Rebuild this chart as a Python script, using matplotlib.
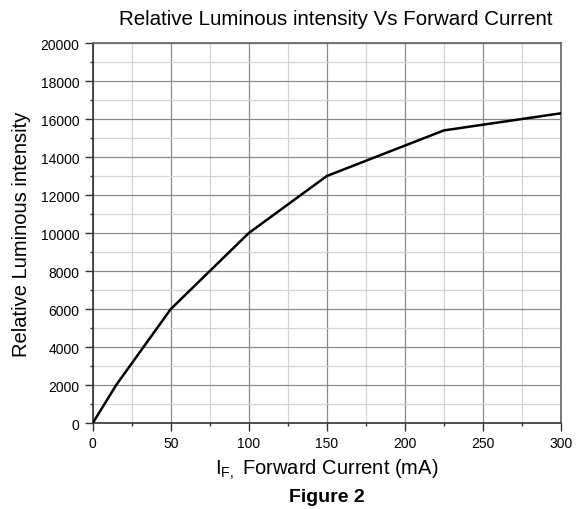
import matplotlib
matplotlib.use("Agg")
import matplotlib.pyplot as plt
from matplotlib.ticker import MultipleLocator

plt.rcParams['font.family'] = ['Liberation Sans', 'DejaVu Sans']
plt.rcParams['mathtext.fontset'] = 'custom'
plt.rcParams['mathtext.rm'] = 'Liberation Sans'

current_ma = [0, 15, 50, 100, 150, 225, 300]
intensity = [0, 2000, 6000, 10000, 13000, 15400, 16300]

fig = plt.figure(figsize=(5.8, 5.1), dpi=100)
ax = fig.add_axes([0.160, 0.1686, 0.807, 0.7451])

ax.plot(current_ma, intensity, color='black', lw=1.8, zorder=3)

ax.set_xlim(0, 300)
ax.set_ylim(0, 20000)
ax.xaxis.set_major_locator(MultipleLocator(50))
ax.xaxis.set_minor_locator(MultipleLocator(25))
ax.yaxis.set_major_locator(MultipleLocator(2000))
ax.yaxis.set_minor_locator(MultipleLocator(1000))

ax.grid(which='major', color='#8a8a8a', lw=0.9)
ax.grid(which='minor', color='#d4d4d4', lw=0.9)
ax.set_axisbelow(True)

for s in ['top', 'right']:
    ax.spines[s].set_color('#666666')
    ax.spines[s].set_linewidth(1.2)
for s in ['left', 'bottom']:
    ax.spines[s].set_color('#333333')
    ax.spines[s].set_linewidth(1.2)

ax.tick_params(which='major', direction='out', length=6, width=1, labelsize=10, colors='#333333', labelcolor='black')
ax.tick_params(which='minor', direction='out', length=2.5, width=1, colors='#333333')

ax.set_title('Relative Luminous intensity Vs Forward Current', fontsize=14.8, pad=14, x=0.519)
ax.set_ylabel('Relative Luminous intensity', fontsize=14.5, labelpad=7)
ax.set_xlabel(r'$\mathregular{I_{F,}}$ Forward Current (mA)', fontsize=14.5, labelpad=5)
fig.text(0.563, 0.024, 'Figure 2', ha='center', va='center', fontsize=14, fontweight='bold')

fig.savefig('out.png', dpi=100)
